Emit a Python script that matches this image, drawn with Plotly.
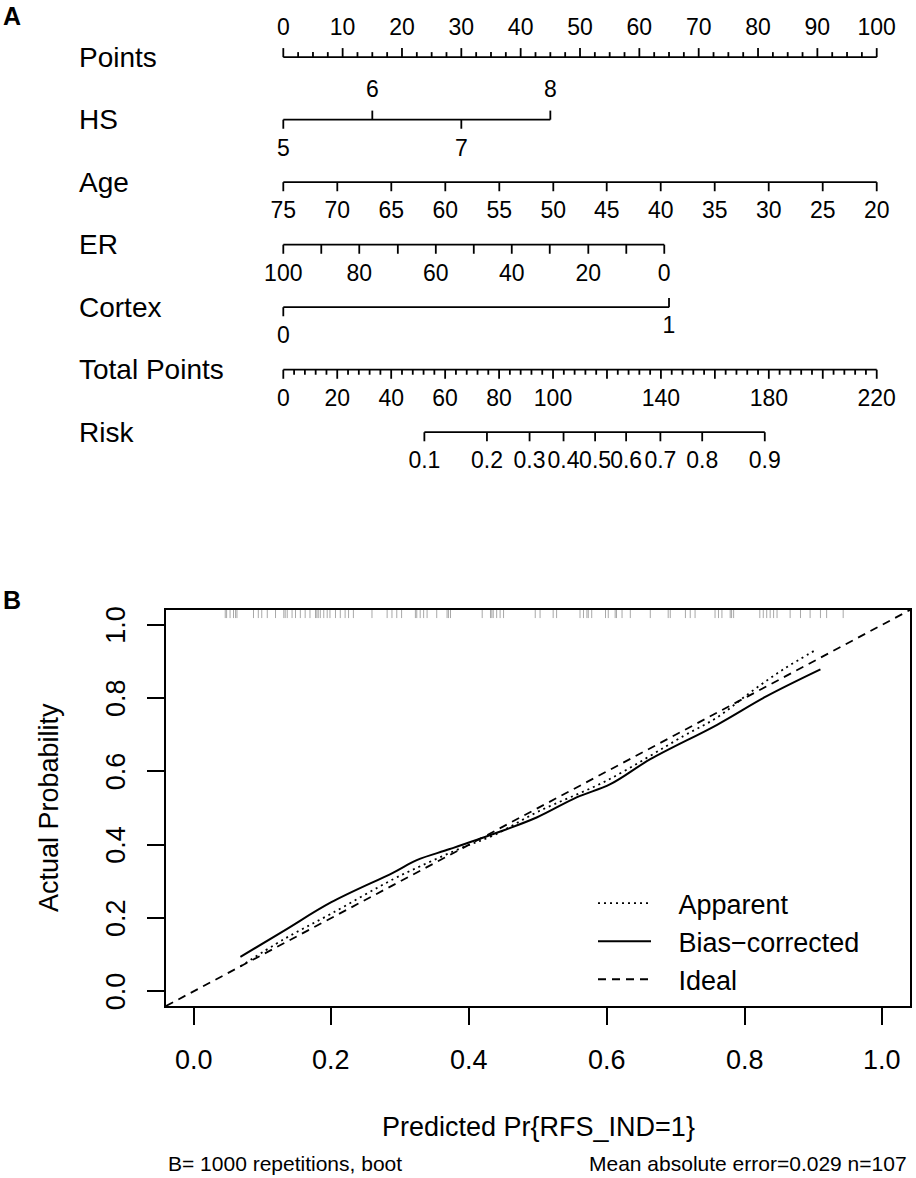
import plotly.graph_objects as go

FONT = "Liberation Sans, Arial, Helvetica, sans-serif"

# ---------------- panel A: nomogram ----------------
row_names = ["Points", "HS", "Age", "ER", "Cortex", "Total Points", "Risk"]

points_labels = [0, 10, 20, 30, 40, 50, 60, 70, 80, 90, 100]

hs_levels = ["5", "6", "7", "8"]
hs_points = [0, 15, 30, 45]

age_levels = ["75", "70", "65", "60", "55", "50", "45", "40", "35", "30", "25", "20"]
age_points = [0, 9.1, 18.2, 27.3, 36.4, 45.5, 54.5, 63.6, 72.7, 81.8, 90.9, 100]

er_levels = ["100", "", "80", "", "60", "", "40", "", "20", "", "0"]
er_points = [0, 6.4, 12.8, 19.3, 25.7, 32.1, 38.5, 44.9, 51.4, 57.8, 64.2]

cortex_levels = ["0", "1"]
cortex_points = [0, 65]

total_ticks = [0, 20, 40, 60, 80, 100, 120, 140, 160, 180, 200, 220]
total_labels = ["0", "20", "40", "60", "80", "100", "", "140", "", "180", "", "220"]

risk_levels = ["0.1", "0.2", "0.3", "0.4", "0.5", "0.6", "0.7", "0.8", "0.9"]
risk_total = [52.3, 75.5, 91.3, 103.9, 115.6, 127.1, 139.8, 155.3, 178.5]

# ---------------- panel B: calibration ----------------
prob_ticks = [0, 0.2, 0.4, 0.6, 0.8, 1.0]
prob_labels = ["0.0", "0.2", "0.4", "0.6", "0.8", "1.0"]

apparent_x = [0.068, 0.131, 0.2, 0.29, 0.33, 0.39, 0.435, 0.5, 0.6, 0.711, 0.76, 0.808, 0.856, 0.905]
apparent_y = [0.068, 0.142, 0.212, 0.306, 0.342, 0.392, 0.425, 0.49, 0.575, 0.696, 0.747, 0.815, 0.878, 0.933]

bias_x = [0.068, 0.131, 0.2, 0.29, 0.324, 0.372, 0.435, 0.498, 0.556, 0.605, 0.663, 0.76, 0.832, 0.91]
bias_y = [0.094, 0.165, 0.243, 0.324, 0.358, 0.388, 0.429, 0.474, 0.529, 0.565, 0.633, 0.727, 0.805, 0.878]

rug_pred = [
    0.046, 0.048, 0.053, 0.058, 0.061, 0.063, 0.087, 0.094, 0.099, 0.107,
    0.119, 0.131, 0.133, 0.136, 0.143, 0.148, 0.155, 0.162, 0.169, 0.177,
    0.179, 0.181, 0.184, 0.189, 0.194, 0.198, 0.206, 0.213, 0.220, 0.225,
    0.232, 0.259, 0.281, 0.288, 0.295, 0.302, 0.322, 0.324, 0.329, 0.334,
    0.339, 0.353, 0.368, 0.370, 0.373, 0.419, 0.431, 0.433, 0.435, 0.440,
    0.445, 0.450, 0.496, 0.503, 0.522, 0.527, 0.561, 0.566, 0.571, 0.573,
    0.578, 0.598, 0.602, 0.612, 0.614, 0.622, 0.634, 0.663, 0.689, 0.692,
    0.714, 0.721, 0.728, 0.757, 0.762, 0.767, 0.779, 0.781, 0.784, 0.822,
    0.827, 0.832, 0.837, 0.842, 0.847, 0.866, 0.881, 0.895, 0.910, 0.919,
    0.943,
]

fig = go.Figure()

TICK = 9 / 62     # tick length in row units
MINOR = 5 / 62
ABOVE = -0.45     # label offsets (y axis is reversed)
BELOW = 0.485
LW = 1.8


def add_lines(xs, ys, xaxis="x", yaxis="y", width=LW, color="black"):
    fig.add_trace(go.Scatter(x=xs, y=ys, mode="lines", xaxis=xaxis, yaxis=yaxis,
                             line=dict(color=color, width=width),
                             showlegend=False, hoverinfo="skip"))


def add_scale(row, xs, sides, ticklen=TICK, xaxis="x"):
    # baseline plus one tick per value; side -1 = up, +1 = down
    X, Y = [min(xs), max(xs), None], [row, row, None]
    for x, s in zip(xs, sides):
        X += [x, x, None]
        Y += [row, row + s * ticklen, None]
    add_lines(X, Y, xaxis=xaxis)


def add_minor(row, xs, side, xaxis="x"):
    X, Y = [], []
    for x in xs:
        X += [x, x, None]
        Y += [row, row + side * MINOR, None]
    add_lines(X, Y, xaxis=xaxis)


def add_labels(xs, ys, labels, xaxis="x"):
    fig.add_trace(go.Scatter(x=xs, y=ys, mode="text", text=labels,
                             textposition="middle center", xaxis=xaxis, yaxis="y",
                             textfont=dict(size=23, color="black", family=FONT),
                             showlegend=False, hoverinfo="skip", cliponaxis=False))


# Points
add_scale(0, points_labels, [-1] * len(points_labels))
add_minor(0, [i * 2.5 for i in range(41) if i % 4], -1)
add_labels(points_labels, [ABOVE] * len(points_labels), [str(v) for v in points_labels])

# HS (alternating sides)
hs_sides = [1, -1, 1, -1]
add_scale(1, hs_points, hs_sides)
add_labels(hs_points, [1 + (BELOW if s > 0 else ABOVE) for s in hs_sides], hs_levels)

# Age
add_scale(2, age_points, [1] * len(age_points))
add_labels(age_points, [2 + BELOW] * len(age_points), age_levels)

# ER
add_scale(3, er_points, [1] * len(er_points))
add_labels(er_points, [3 + BELOW] * len(er_points), er_levels)

# Cortex
add_scale(4, cortex_points, [1, -1])
add_labels(cortex_points, [4 + BELOW, 4 + 0.32], cortex_levels)

# Total points and risk on their own (overlaid) scale
add_scale(5, total_ticks, [1] * len(total_ticks), xaxis="x3")
add_minor(5, [i * 4 for i in range(56) if i % 5], 1, xaxis="x3")
add_labels(total_ticks, [5 + BELOW] * len(total_ticks), total_labels, xaxis="x3")

add_scale(6, risk_total, [1] * len(risk_total), xaxis="x3")
add_labels(risk_total, [6 + BELOW] * len(risk_total), risk_levels, xaxis="x3")

# ---------------- calibration curves ----------------
rx, ry = [], []
for p in rug_pred:
    rx += [p, p, None]
    ry += [1.04, 1.018, None]
add_lines(rx, ry, xaxis="x2", yaxis="y2", width=1, color="#a8a8a8")

GAP = "\u00a0\u00a0\u00a0"
fig.add_trace(go.Scatter(x=apparent_x, y=apparent_y, mode="lines", name=GAP + "Apparent",
                         line=dict(color="black", width=1.8, dash="2px,4px", shape="spline"),
                         xaxis="x2", yaxis="y2"))
fig.add_trace(go.Scatter(x=bias_x, y=bias_y, mode="lines", name=GAP + "Bias\u2212corrected",
                         line=dict(color="black", width=2, shape="spline"),
                         xaxis="x2", yaxis="y2"))
fig.add_trace(go.Scatter(x=[-0.04, 1.04], y=[-0.04, 1.04], mode="lines", name=GAP + "Ideal",
                         line=dict(color="black", width=1.8, dash="8px,6px"),
                         xaxis="x2", yaxis="y2"))

# ---------------- layout ----------------
W, H = 916, 1178
A_TOP = -4        # panel A sits slightly higher than a 0..500 px band
B_TOP, B_BOT = 610, 1006

axis_b = dict(range=[-0.04, 1.04], showline=True, linecolor="black", linewidth=1.8,
              mirror=True, ticks="outside", ticklen=17, tickwidth=1.6, tickcolor="black",
              tickvals=prob_ticks, showticklabels=False,
              showgrid=False, zeroline=False)

fig.update_layout(
    width=W, height=H,
    margin=dict(l=0, r=0, t=0, b=0),
    paper_bgcolor="white", plot_bgcolor="rgba(0,0,0,0)",
    font=dict(family=FONT, color="black"),
    xaxis=dict(domain=[0, 1], range=[-47.74, 106.62], visible=False),
    yaxis=dict(domain=[1 - (500 + A_TOP) / H, 1], range=[7.085 + A_TOP / 62, -0.979 - A_TOP / 62],
               visible=False),
    xaxis3=dict(overlaying="x", anchor="y", range=[-47.74 * 2.2, 106.62 * 2.2], visible=False),
    xaxis2=dict(axis_b, domain=[166 / W, 910 / W], anchor="y2"),
    yaxis2=dict(axis_b, domain=[1 - B_BOT / H, 1 - B_TOP / H], anchor="x2"),
    showlegend=True,
    legend=dict(x=593 / W, y=1 - 879 / H, xanchor="left", yanchor="top",
                font=dict(size=27, family=FONT, color="black"),
                bgcolor="rgba(0,0,0,0)", itemwidth=53),
)

annotations = []
for i, name in enumerate(row_names):
    annotations.append(dict(x=77 / W, xref="paper", y=i, yref="y", text=name,
                            xanchor="left", yanchor="middle", showarrow=False,
                            font=dict(size=28, family=FONT, color="black")))

# tick labels of panel B, placed on the probability scale
for v, t in zip(prob_ticks, prob_labels):
    annotations.append(dict(x=v, xref="x2", y=1 - 1060 / H, yref="paper", text=t,
                            xanchor="center", yanchor="middle", showarrow=False,
                            font=dict(size=27, family=FONT, color="black")))
    annotations.append(dict(x=116 / W, xref="paper", y=v, yref="y2", text=t, textangle=-90,
                            xanchor="center", yanchor="middle", showarrow=False,
                            font=dict(size=27, family=FONT, color="black")))

annotations += [
    dict(x=1 / W, y=1, text="<b>A</b>", xanchor="left", yanchor="top"),
    dict(x=1 / W, y=1 - 600 / H, text="<b>B</b>", xanchor="left", yanchor="middle"),
]
for a in annotations[-2:]:
    a.update(xref="paper", yref="paper", showarrow=False,
             font=dict(size=25, family=FONT, color="black"))
annotations += [
    dict(x=538 / W, y=1 - 1127 / H, text="Predicted Pr{RFS_IND=1}", xanchor="center",
         font=dict(size=27, family=FONT, color="black")),
    dict(x=49 / W, y=1 - 808 / H, text="Actual Probability", textangle=-90, xanchor="center",
         font=dict(size=27, family=FONT, color="black")),
    dict(x=166 / W, y=1 - 1163 / H, text="B= 1000 repetitions, boot", xanchor="left",
         font=dict(size=21, family=FONT, color="black")),
    dict(x=909 / W, y=1 - 1163 / H, text="Mean absolute error=0.029 n=107", xanchor="right",
         font=dict(size=21, family=FONT, color="black")),
]
for a in annotations[-4:]:
    a.update(xref="paper", yref="paper", yanchor="middle", showarrow=False)

fig.update_layout(annotations=annotations)

# the page body has a default 8px margin; drop it so the figure fills the window
fig.write_html("out.html", config={"displayModeBar": False},
               post_script="document.body.style.margin='0px';")
